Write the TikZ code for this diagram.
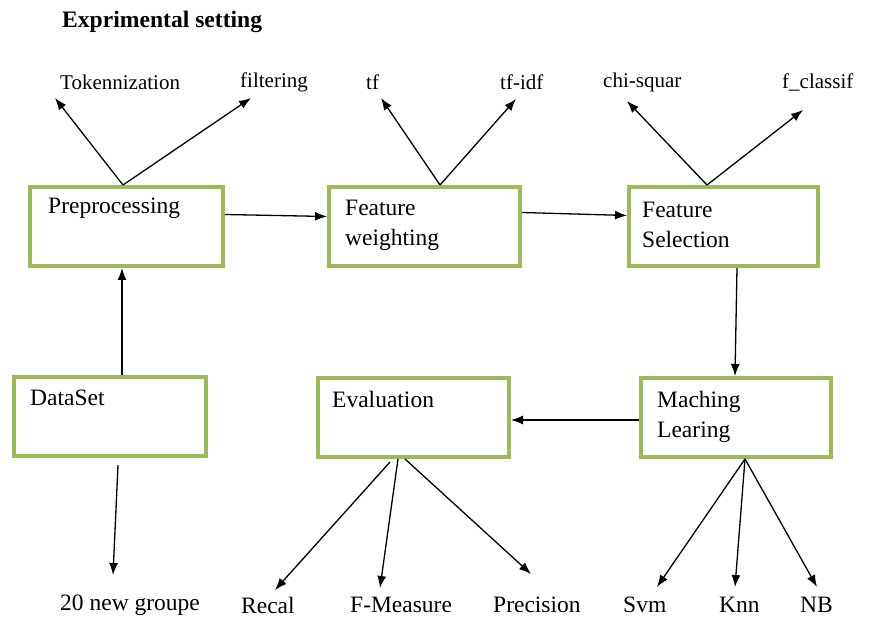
\documentclass[tikz,border=0pt]{standalone}
\usepackage{fontspec}
\setmainfont{Liberation Serif}
\usetikzlibrary{arrows.meta}
\definecolor{boxgreen}{RGB}{155,187,89}
\begin{document}
\begin{tikzpicture}[x=1pt,y=-1pt,
  box/.style={draw=boxgreen,line width=4pt,fill=white,rectangle,inner sep=0pt,minimum height=79pt},
  txt/.style={anchor=west,inner sep=0pt,font=\fontsize{23.5}{30}\selectfont,align=left},
  lbl/.style={anchor=west,inner sep=0pt,font=\fontsize{21}{25}\selectfont},
  blbl/.style={anchor=west,inner sep=0pt,font=\fontsize{23.5}{27}\selectfont},
  arr/.style={line width=1.3pt,-{Latex[length=12pt,width=9pt]}}]
\useasboundingbox (0,0) rectangle (871,617);
% title
\node[anchor=west,inner sep=0pt,font=\fontsize{23.6}{27}\selectfont\bfseries] (title) at (62,22) {Exprimental setting};
% boxes
\node[box,minimum width=193pt] (pre) at (126.5,226.5) {};
\node[box,minimum width=191pt] (fw) at (424.5,226.5) {};
\node[box,minimum width=189pt] (fs) at (723.5,226.5) {};
\node[box,minimum width=192pt] (ds) at (110,416.5) {};
\node[box,minimum width=191pt] (ev) at (413.5,417.5) {};
\node[box,minimum width=190pt] (ml) at (736,417.5) {};
% box texts
\node[txt] (tpre) at (48,208) {Preprocessing};
\node[txt] (tfw) at (345,225) {Feature\\weighting};
\node[txt] (tfs) at (642,225) {Feature\\Selection};
\node[txt] (tds) at (30,398) {DataSet};
\node[txt] (tev) at (332,399) {Evaluation};
\node[txt] (tml) at (657,417) {Maching\\Learing};
% labels
\node[lbl] (ltok) at (60,82) {Tokennization};
\node[lbl] (lfil) at (240,82) {filtering};
\node[lbl] (ltf) at (366,82) {tf};
\node[lbl] (ltfidf) at (500,82) {tf-idf};
\node[lbl] (lchi) at (603,82) {chi-squar};
\node[lbl] (lfcl) at (782,82) {f\_classif};
\node[blbl] (lng) at (60,605) {20 new groupe};
\node[blbl] (lrec) at (241,605) {Recal};
\node[blbl] (lfm) at (350,605) {F-Measure};
\node[blbl] (lpre) at (493,605) {Precision};
\node[blbl] (lsvm) at (623,605) {Svm};
\node[blbl] (lknn) at (719,605) {Knn};
\node[blbl] (lnb) at (800,605) {NB};
% arrow end points
\coordinate (ctok) at (55,98);
\coordinate (cfil) at (251,98);
\coordinate (ctf) at (381,98);
\coordinate (ctfidf) at (516,99);
\coordinate (cchi) at (627,101);
\coordinate (cfcl) at (803,110);
\coordinate (cng0) at (118,465);
\coordinate (cng) at (113,575);
\coordinate (crec) at (275,590);
\coordinate (cfm) at (380,588);
\coordinate (cpre) at (531,574);
\coordinate (csvm) at (657,587);
\coordinate (cknn) at (735,587);
\coordinate (cnb) at (817,587);
% arrows
\draw[arr] ([xshift=-3.5pt]pre.north) -- (ctok);
\draw[arr] ([xshift=-3.5pt]pre.north) -- (cfil);
\draw[arr] ([xshift=15.5pt]fw.north) -- (ctf);
\draw[arr] ([xshift=15.5pt]fw.north) -- (ctfidf);
\draw[arr] ([xshift=-16.5pt]fs.north) -- (cchi);
\draw[arr] ([xshift=-16.5pt]fs.north) -- (cfcl);
\draw[arr] ([yshift=12pt]pre.east) -- ([yshift=10pt]fw.west);
\draw[arr] ([yshift=14pt]fw.east) -- ([yshift=11pt]fs.west);
\draw[arr] ([xshift=13.5pt]fs.south) -- ([xshift=-1pt]ml.north);
\draw[arr] ([yshift=-2.5pt]ml.west) -- ([yshift=-2.5pt]ev.east);
\draw[arr] ([xshift=12pt]ds.north) -- ([xshift=-4.5pt]pre.south);
\draw[arr] (cng0) -- (cng);
\draw[arr] ([xshift=-23.5pt,yshift=-3pt]ev.south) -- (crec);
\draw[arr] ([xshift=-15.5pt]ev.south) -- (cfm);
\draw[arr] ([xshift=-8.5pt]ev.south) -- (cpre);
\draw[arr] ([xshift=9pt]ml.south) -- (csvm);
\draw[arr] ([xshift=9pt]ml.south) -- (cknn);
\draw[arr] ([xshift=9pt]ml.south) -- (cnb);
\end{tikzpicture}
\end{document}
